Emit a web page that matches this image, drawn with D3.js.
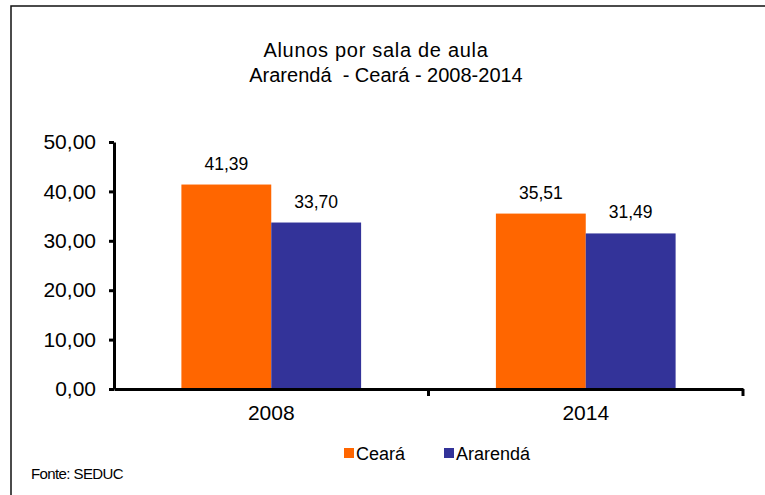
<!DOCTYPE html>
<html lang="pt">

<head>
  <meta charset="UTF-8" />
  <title>Alunos por sala de aula</title>
  <script src="https://d3js.org/d3.v7.min.js"></script>
  <style>
    body {
      margin: 0;
      background: #fff;
      font-family: "Liberation Sans", Arial, sans-serif;
    }

    svg text {
      fill: #000;
    }
  </style>
</head>

<body>
  <svg width="765" height="495"></svg>

  <script>
    const years = ["2008", "2014"];
    const series = ["Ceará", "Ararendá"];
    const ceara = [41.39, 35.51];
    const ararenda = [33.70, 31.49];
    const yTicks = [0, 10, 20, 30, 40, 50];
    const colors = ["#ff6600", "#333399"];
    const titleLines = ["Alunos por sala de aula", "Ararendá  - Ceará - 2008-2014"];

    const values = [ceara, ararenda];
    const fmt = v => d3.format(".2f")(v).replace(".", ",");

    const svg = d3.select("svg");

    // outer frame, runs off the right/bottom edge like the original
    svg.append("rect")
      .attr("x", 11).attr("y", 6)
      .attr("width", 900).attr("height", 700)
      .attr("fill", "none")
      .attr("stroke", "#111")
      .attr("stroke-width", 1.5);

    svg.append("text")
      .attr("x", 376).attr("y", 57)
      .attr("text-anchor", "middle")
      .style("font-size", "20px")
      .style("letter-spacing", "0.7px")
      .style("white-space", "pre")
      .text(titleLines[0]);
    svg.append("text")
      .attr("x", 386).attr("y", 82)
      .attr("text-anchor", "middle")
      .style("font-size", "20px")
      .style("white-space", "pre")
      .text(titleLines[1]);

    const x0 = d3.scaleBand().domain(years).range([114, 743]).padding(0);
    const x1 = d3.scaleBand().domain(series).range([0, x0.bandwidth()])
      .paddingInner(0).paddingOuter(0.75);
    const y = d3.scaleLinear().domain([0, 50]).range([389, 142]);

    // bars
    series.forEach((s, i) => {
      svg.append("g").selectAll("rect")
        .data(years)
        .join("rect")
        .attr("x", (d) => x0(d) + x1(s))
        .attr("y", (d, j) => y(values[i][j]))
        .attr("width", x1.bandwidth())
        .attr("height", (d, j) => y(0) - y(values[i][j]))
        .attr("fill", colors[i]);

      svg.append("g").selectAll("text")
        .data(years)
        .join("text")
        .attr("x", (d) => x0(d) + x1(s) + x1.bandwidth() / 2)
        .attr("y", (d, j) => y(values[i][j]) - 15)
        .attr("text-anchor", "middle")
        .style("font-size", "17.5px")
        .text((d, j) => fmt(values[i][j]));
    });

    // y axis
    const yAxis = svg.append("g")
      .attr("transform", "translate(114,0)")
      .call(d3.axisLeft(y).tickValues(yTicks).tickFormat(fmt)
        .tickSize(5).tickSizeOuter(0).tickPadding(13));
    yAxis.select(".domain").attr("stroke", "#000").attr("stroke-width", 3);
    yAxis.selectAll(".tick line").attr("stroke", "#000").attr("stroke-width", 3);
    yAxis.selectAll(".tick text")
      .style("font-size", "21px")
      .style("font-family", "'Liberation Sans', Arial, sans-serif");

    // x axis
    const xAxis = svg.append("g")
      .attr("transform", "translate(0,389)")
      .call(d3.axisBottom(x0).tickSize(0).tickSizeOuter(0).tickPadding(16));
    xAxis.select(".domain").attr("stroke", "#000").attr("stroke-width", 3);
    xAxis.selectAll(".tick text")
      .style("font-size", "21px")
      .style("font-family", "'Liberation Sans', Arial, sans-serif");
    xAxis.selectAll(".sep")
      .data(years)
      .join("line")
      .attr("class", "sep")
      .attr("x1", (d) => x0(d) + x0.bandwidth())
      .attr("x2", (d) => x0(d) + x0.bandwidth())
      .attr("y1", 0).attr("y2", 7)
      .attr("stroke", "#000")
      .attr("stroke-width", 3);

    // legend
    const legendX = [344, 444];
    series.forEach((s, i) => {
      svg.append("rect")
        .attr("x", legendX[i]).attr("y", 448)
        .attr("width", 10).attr("height", 10)
        .attr("fill", colors[i]);
      svg.append("text")
        .attr("x", legendX[i] + 12).attr("y", 460)
        .style("font-size", "18px")
        .text(s);
    });

    svg.append("text")
      .attr("x", 31).attr("y", 479)
      .style("font-size", "15px")
      .style("letter-spacing", "-0.6px")
      .text("Fonte: SEDUC");
  </script>
</body>

</html>
